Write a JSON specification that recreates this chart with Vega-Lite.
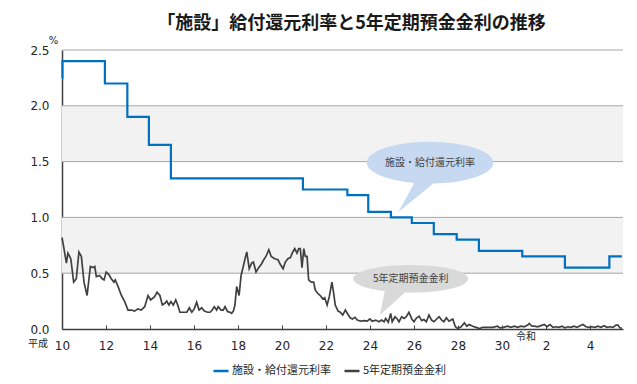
{
  "$schema": "https://vega.github.io/schema/vega-lite/v6.json",
  "width": 561,
  "height": 279,
  "autosize": {"type": "none"},
  "padding": {"left": 62, "top": 50, "right": 14, "bottom": 55},
  "background": "white",
  "config": {
    "view": {"stroke": null},
    "font": "Noto Sans CJK JP"
  },
  "title": {
    "text": "「施設」給付還元利率と5年定期預金金利の推移",
    "font": "Noto Sans CJK JP",
    "fontSize": 18,
    "fontWeight": "bold",
    "color": "#1a1a1a",
    "anchor": "middle",
    "dx": 9,
    "dy": 12,
    "offset": 14
  },
  "datasets": {
    "bands": [{"lo": 0.5, "hi": 1.0}, {"lo": 1.5, "hi": 2.0}],
    "grid": [{"g": 0.5}, {"g": 1.0}, {"g": 1.5}, {"g": 2.0}, {"g": 2.5}],
    "rate": [
      {"t": 10.0, "v": 2.25, "s": "施設・給付還元利率"},
      {"t": 10.02, "v": 2.4, "s": "施設・給付還元利率"},
      {"t": 11.95, "v": 2.2, "s": "施設・給付還元利率"},
      {"t": 12.97, "v": 1.9, "s": "施設・給付還元利率"},
      {"t": 13.95, "v": 1.65, "s": "施設・給付還元利率"},
      {"t": 14.95, "v": 1.35, "s": "施設・給付還元利率"},
      {"t": 20.95, "v": 1.25, "s": "施設・給付還元利率"},
      {"t": 22.97, "v": 1.2, "s": "施設・給付還元利率"},
      {"t": 23.92, "v": 1.05, "s": "施設・給付還元利率"},
      {"t": 24.95, "v": 1.0, "s": "施設・給付還元利率"},
      {"t": 25.9, "v": 0.95, "s": "施設・給付還元利率"},
      {"t": 26.9, "v": 0.85, "s": "施設・給付還元利率"},
      {"t": 27.94, "v": 0.8, "s": "施設・給付還元利率"},
      {"t": 28.95, "v": 0.7, "s": "施設・給付還元利率"},
      {"t": 30.92, "v": 0.65, "s": "施設・給付還元利率"},
      {"t": 32.86, "v": 0.55, "s": "施設・給付還元利率"},
      {"t": 34.88, "v": 0.65, "s": "施設・給付還元利率"},
      {"t": 35.45, "v": 0.65, "s": "施設・給付還元利率"}
    ],
    "deposit": [
      {"t": 10.0, "v": 0.82}, {"t": 10.09, "v": 0.72}, {"t": 10.2, "v": 0.59}, {"t": 10.27, "v": 0.68},
      {"t": 10.4, "v": 0.63}, {"t": 10.53, "v": 0.42}, {"t": 10.65, "v": 0.45}, {"t": 10.77, "v": 0.69},
      {"t": 10.88, "v": 0.65}, {"t": 11.0, "v": 0.42}, {"t": 11.14, "v": 0.3}, {"t": 11.29, "v": 0.56},
      {"t": 11.41, "v": 0.55}, {"t": 11.49, "v": 0.56}, {"t": 11.56, "v": 0.47}, {"t": 11.71, "v": 0.48},
      {"t": 11.83, "v": 0.45}, {"t": 11.91, "v": 0.44}, {"t": 12.01, "v": 0.51}, {"t": 12.12, "v": 0.49},
      {"t": 12.24, "v": 0.45}, {"t": 12.36, "v": 0.42}, {"t": 12.42, "v": 0.44}, {"t": 12.55, "v": 0.38},
      {"t": 12.7, "v": 0.3}, {"t": 12.85, "v": 0.245}, {"t": 13.0, "v": 0.17}, {"t": 13.15, "v": 0.17},
      {"t": 13.3, "v": 0.16}, {"t": 13.45, "v": 0.18}, {"t": 13.6, "v": 0.17}, {"t": 13.76, "v": 0.2},
      {"t": 13.91, "v": 0.3}, {"t": 14.03, "v": 0.26}, {"t": 14.21, "v": 0.29}, {"t": 14.32, "v": 0.33},
      {"t": 14.45, "v": 0.3}, {"t": 14.56, "v": 0.215}, {"t": 14.68, "v": 0.23}, {"t": 14.76, "v": 0.25},
      {"t": 14.86, "v": 0.215}, {"t": 14.95, "v": 0.245}, {"t": 15.06, "v": 0.215}, {"t": 15.17, "v": 0.26},
      {"t": 15.26, "v": 0.215}, {"t": 15.36, "v": 0.15}, {"t": 15.51, "v": 0.15}, {"t": 15.67, "v": 0.15},
      {"t": 15.79, "v": 0.19}, {"t": 15.9, "v": 0.15}, {"t": 16.01, "v": 0.18}, {"t": 16.12, "v": 0.24},
      {"t": 16.23, "v": 0.17}, {"t": 16.35, "v": 0.19}, {"t": 16.47, "v": 0.16}, {"t": 16.62, "v": 0.15},
      {"t": 16.73, "v": 0.15}, {"t": 16.83, "v": 0.17}, {"t": 16.92, "v": 0.2}, {"t": 17.03, "v": 0.17},
      {"t": 17.1, "v": 0.2}, {"t": 17.23, "v": 0.17}, {"t": 17.33, "v": 0.17}, {"t": 17.41, "v": 0.2},
      {"t": 17.53, "v": 0.155}, {"t": 17.64, "v": 0.15}, {"t": 17.71, "v": 0.14}, {"t": 17.79, "v": 0.16},
      {"t": 17.86, "v": 0.215}, {"t": 17.94, "v": 0.38}, {"t": 18.05, "v": 0.3}, {"t": 18.14, "v": 0.48},
      {"t": 18.24, "v": 0.56}, {"t": 18.32, "v": 0.63}, {"t": 18.4, "v": 0.69}, {"t": 18.51, "v": 0.54},
      {"t": 18.62, "v": 0.59}, {"t": 18.7, "v": 0.6}, {"t": 18.82, "v": 0.51}, {"t": 18.94, "v": 0.55},
      {"t": 19.06, "v": 0.58}, {"t": 19.17, "v": 0.62}, {"t": 19.27, "v": 0.65}, {"t": 19.4, "v": 0.71},
      {"t": 19.51, "v": 0.65}, {"t": 19.67, "v": 0.63}, {"t": 19.82, "v": 0.62}, {"t": 19.92, "v": 0.58},
      {"t": 20.05, "v": 0.54}, {"t": 20.15, "v": 0.6}, {"t": 20.27, "v": 0.63}, {"t": 20.38, "v": 0.64},
      {"t": 20.49, "v": 0.69}, {"t": 20.58, "v": 0.72}, {"t": 20.68, "v": 0.68}, {"t": 20.76, "v": 0.72},
      {"t": 20.83, "v": 0.72}, {"t": 20.91, "v": 0.55}, {"t": 20.99, "v": 0.72}, {"t": 21.06, "v": 0.65},
      {"t": 21.14, "v": 0.65}, {"t": 21.21, "v": 0.44}, {"t": 21.33, "v": 0.42}, {"t": 21.44, "v": 0.42},
      {"t": 21.51, "v": 0.35}, {"t": 21.62, "v": 0.32}, {"t": 21.74, "v": 0.3}, {"t": 21.85, "v": 0.27},
      {"t": 21.94, "v": 0.28}, {"t": 22.05, "v": 0.215}, {"t": 22.15, "v": 0.29}, {"t": 22.27, "v": 0.42},
      {"t": 22.35, "v": 0.32}, {"t": 22.42, "v": 0.215}, {"t": 22.55, "v": 0.16}, {"t": 22.65, "v": 0.15},
      {"t": 22.76, "v": 0.125}, {"t": 22.88, "v": 0.17}, {"t": 23.0, "v": 0.13}, {"t": 23.1, "v": 0.1},
      {"t": 23.2, "v": 0.09}, {"t": 23.32, "v": 0.105}, {"t": 23.42, "v": 0.08}, {"t": 23.58, "v": 0.07},
      {"t": 23.73, "v": 0.075}, {"t": 23.88, "v": 0.07}, {"t": 23.99, "v": 0.09}, {"t": 24.1, "v": 0.07},
      {"t": 24.26, "v": 0.08}, {"t": 24.41, "v": 0.065}, {"t": 24.53, "v": 0.08}, {"t": 24.64, "v": 0.065},
      {"t": 24.71, "v": 0.095}, {"t": 24.83, "v": 0.06}, {"t": 24.94, "v": 0.14}, {"t": 25.01, "v": 0.065},
      {"t": 25.14, "v": 0.11}, {"t": 25.24, "v": 0.09}, {"t": 25.32, "v": 0.065}, {"t": 25.44, "v": 0.11},
      {"t": 25.55, "v": 0.095}, {"t": 25.65, "v": 0.11}, {"t": 25.77, "v": 0.15}, {"t": 25.9, "v": 0.09},
      {"t": 26.0, "v": 0.065}, {"t": 26.1, "v": 0.095}, {"t": 26.23, "v": 0.115}, {"t": 26.35, "v": 0.075},
      {"t": 26.45, "v": 0.085}, {"t": 26.56, "v": 0.065}, {"t": 26.68, "v": 0.125}, {"t": 26.8, "v": 0.08},
      {"t": 26.91, "v": 0.065}, {"t": 27.01, "v": 0.085}, {"t": 27.14, "v": 0.11}, {"t": 27.26, "v": 0.08},
      {"t": 27.36, "v": 0.065}, {"t": 27.47, "v": 0.1}, {"t": 27.59, "v": 0.07}, {"t": 27.76, "v": 0.09},
      {"t": 27.88, "v": 0.02}, {"t": 27.99, "v": 0.005}, {"t": 28.14, "v": 0.02}, {"t": 28.29, "v": 0.055},
      {"t": 28.4, "v": 0.025}, {"t": 28.51, "v": 0.04}, {"t": 28.67, "v": 0.025}, {"t": 28.82, "v": 0.015},
      {"t": 28.97, "v": 0.005}, {"t": 29.12, "v": 0.015}, {"t": 29.35, "v": 0.015}, {"t": 29.58, "v": 0.015},
      {"t": 29.8, "v": 0.025}, {"t": 29.91, "v": 0.01}, {"t": 30.06, "v": 0.015}, {"t": 30.26, "v": 0.025},
      {"t": 30.41, "v": 0.015}, {"t": 30.56, "v": 0.025}, {"t": 30.71, "v": 0.015}, {"t": 30.86, "v": 0.025},
      {"t": 31.01, "v": 0.02}, {"t": 31.17, "v": 0.035}, {"t": 31.24, "v": 0.05}, {"t": 31.36, "v": 0.025},
      {"t": 31.47, "v": 0.025}, {"t": 31.62, "v": 0.02}, {"t": 31.77, "v": 0.03}, {"t": 31.92, "v": 0.04},
      {"t": 32.05, "v": 0.02}, {"t": 32.18, "v": 0.04}, {"t": 32.32, "v": 0.015}, {"t": 32.45, "v": 0.02},
      {"t": 32.59, "v": 0.015}, {"t": 32.73, "v": 0.025}, {"t": 32.86, "v": 0.01}, {"t": 33.0, "v": 0.02},
      {"t": 33.14, "v": 0.015}, {"t": 33.27, "v": 0.025}, {"t": 33.41, "v": 0.015}, {"t": 33.55, "v": 0.03},
      {"t": 33.68, "v": 0.04}, {"t": 33.82, "v": 0.02}, {"t": 33.95, "v": 0.015}, {"t": 34.09, "v": 0.02},
      {"t": 34.23, "v": 0.015}, {"t": 34.36, "v": 0.025}, {"t": 34.5, "v": 0.015}, {"t": 34.64, "v": 0.03},
      {"t": 34.77, "v": 0.015}, {"t": 34.91, "v": 0.02}, {"t": 35.05, "v": 0.015}, {"t": 35.18, "v": 0.035},
      {"t": 35.27, "v": 0.035}, {"t": 35.36, "v": 0.01}, {"t": 35.45, "v": 0.005}
    ],
    "notes": [
      {"id": "rate", "t": 26.73, "v": 1.49, "label": "施設・給付還元利率"},
      {"id": "deposit", "t": 25.85, "v": 0.45, "label": "5年定期預金金利"}
    ],
    "eras": [
      {"t": 8.91, "v": -0.135, "label": "平成"},
      {"t": 31.09, "v": -0.072, "label": "令和"}
    ]
  },
  "layer": [
    {
      "data": {"name": "bands"},
      "mark": {"type": "rect", "color": "#f2f2f2"},
      "encoding": {
        "x": {"datum": 10, "type": "quantitative", "scale": {"domain": [10, 35.5], "nice": false, "zero": false}},
        "x2": {"datum": 35.5},
        "y": {"field": "lo", "type": "quantitative", "scale": {"domain": [0, 2.5], "nice": false}},
        "y2": {"field": "hi"}
      }
    },
    {
      "data": {"name": "grid"},
      "mark": {"type": "rule", "color": "#a6a6a6", "strokeWidth": 1},
      "encoding": {
        "y": {"field": "g", "type": "quantitative"}
      }
    },
    {
      "data": {"name": "deposit"},
      "mark": {"type": "line", "strokeWidth": 1.7, "interpolate": "linear"},
      "encoding": {
        "x": {"field": "t", "type": "quantitative"},
        "y": {"field": "v", "type": "quantitative"},
        "color": {"datum": "5年定期預金金利", "type": "nominal"}
      }
    },
    {
      "data": {"name": "rate"},
      "mark": {"type": "line", "strokeWidth": 2.2, "interpolate": "step-after"},
      "encoding": {
        "x": {"field": "t", "type": "quantitative",
          "axis": {
            "values": [10,11,12,13,14,15,16,17,18,19,20,21,22,23,24,25,26,27,28,29,30,31,32,33,34,35],
            "labelExpr": "datum.value % 2 == 0 ? (datum.value >= 32 ? '' + (datum.value - 30) : '' + datum.value) : ''",
            "title": null,
            "grid": false,
            "domainColor": "#404040",
            "domainWidth": 1.5,
            "tickColor": "#404040",
            "tickSize": -4,
            "tickWidth": 1,
            "labelPadding": 20,
            "labelFont": "DejaVu Sans",
            "labelFontSize": 12,
            "labelColor": "#262626",
            "labelBaseline": "middle",
            "labelAlign": "center",
            "labelFlush": false,
            "labelOverlap": false
          }
        },
        "y": {"field": "v", "type": "quantitative",
          "axis": {
            "values": [0, 0.5, 1.0, 1.5, 2.0, 2.5],
            "format": ".1f",
            "title": "%",
            "titleAngle": 0,
            "titleX": -9,
            "titleY": -5,
            "titleFont": "DejaVu Sans",
            "titleFontSize": 10,
            "titleFontWeight": "normal",
            "titleColor": "#262626",
            "grid": false,
            "ticks": false,
            "domainColor": "#404040",
            "domainWidth": 1.5,
            "labelPadding": 13,
            "labelFont": "DejaVu Sans",
            "labelFontSize": 12,
            "labelColor": "#262626"
          }
        },
        "color": {
          "field": "s",
          "type": "nominal",
          "scale": {"domain": ["施設・給付還元利率", "5年定期預金金利"], "range": ["#0070c0", "#404040"]},
          "legend": {
            "title": null,
            "orient": "none",
            "legendX": 150,
            "legendY": 312,
            "direction": "horizontal",
            "symbolType": "stroke",
            "symbolSize": 225,
            "symbolStrokeWidth": 2.5,
            "labelFont": "Noto Sans CJK JP",
            "labelFontSize": 11,
            "labelColor": "#262626",
            "columnPadding": 8,
            "labelOffset": 2
          }
        }
      }
    },
    {
      "data": {"name": "notes"},
      "transform": [{"filter": "datum.id == 'rate'"}],
      "mark": {"type": "point", "filled": true, "opacity": 1, "color": "#c6d9f1", "size": 16000, "strokeWidth": 0,
        "shape": "M -0.25 0.3196 A 1 0.33 0 1 1 0.05 0.3296 L -0.5 0.78 Z"},
      "encoding": {
        "x": {"field": "t", "type": "quantitative"},
        "y": {"field": "v", "type": "quantitative"}
      }
    },
    {
      "data": {"name": "notes"},
      "transform": [{"filter": "datum.id == 'deposit'"}],
      "mark": {"type": "point", "filled": true, "opacity": 1, "color": "#d9d9d9", "size": 13225, "strokeWidth": 0,
        "shape": "M -0.45 0.2143 A 1 0.24 0 1 1 -0.1 0.2388 L -0.536 0.63 Z"},
      "encoding": {
        "x": {"field": "t", "type": "quantitative"},
        "y": {"field": "v", "type": "quantitative"}
      }
    },
    {
      "data": {"name": "notes"},
      "mark": {"type": "text", "font": "Noto Sans CJK JP", "fontSize": 10, "color": "#404040", "align": "center", "baseline": "middle"},
      "encoding": {
        "x": {"field": "t", "type": "quantitative"},
        "y": {"field": "v", "type": "quantitative"},
        "text": {"field": "label"}
      }
    },
    {
      "data": {"name": "eras"},
      "mark": {"type": "text", "font": "Noto Sans CJK JP", "fontSize": 10, "color": "#262626", "align": "center", "baseline": "middle"},
      "encoding": {
        "x": {"field": "t", "type": "quantitative"},
        "y": {"field": "v", "type": "quantitative"},
        "text": {"field": "label"}
      }
    }
  ]
}
